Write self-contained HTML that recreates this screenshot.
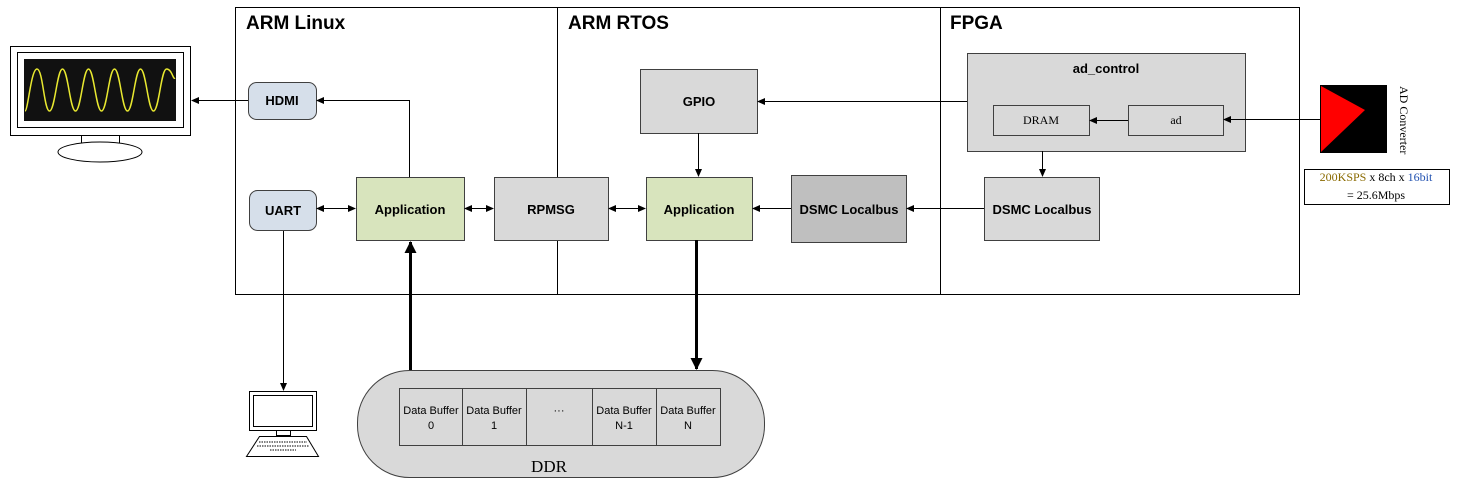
<!DOCTYPE html>
<html><head><meta charset="utf-8"><style>
html,body{margin:0;padding:0;background:#fff;}
svg{display:block;}
.b{font-family:"Liberation Sans",sans-serif;font-weight:bold;font-size:13px;fill:#000;}
.h{font-family:"Liberation Sans",sans-serif;font-weight:bold;font-size:19px;fill:#000;}
.s{font-family:"Liberation Sans",sans-serif;font-size:11px;fill:#000;}
.m{font-family:"Liberation Serif",serif;font-size:12px;fill:#000;}
</style></head><body>
<svg width="1458" height="481" viewBox="0 0 1458 481" xmlns="http://www.w3.org/2000/svg">
<defs>
<marker id="a" markerWidth="8" markerHeight="8" refX="7" refY="4" orient="auto-start-reverse" markerUnits="userSpaceOnUse"><path d="M0,0.5 L8,4 L0,7.5z" fill="#000"/></marker>
<marker id="A" markerWidth="12" markerHeight="12" refX="11" refY="6" orient="auto" markerUnits="userSpaceOnUse"><path d="M0,0 L12,6 L0,12z" fill="#000"/></marker>
</defs>
<g fill="none" stroke="#000" stroke-width="1">
<rect x="235.5" y="7.5" width="322" height="287"/>
<rect x="557.5" y="7.5" width="383" height="287"/>
<rect x="940.5" y="7.5" width="359" height="287"/>
</g>
<text class="h" x="246" y="29">ARM Linux</text>
<text class="h" x="568" y="29">ARM RTOS</text>
<text class="h" x="950" y="29">FPGA</text>
<g stroke="#404040" stroke-width="1">
<rect x="248.5" y="82.5" width="68" height="37" rx="8" fill="#d6dfea"/>
<rect x="249.5" y="190.5" width="67" height="40" rx="8" fill="#d6dfea"/>
<rect x="356.5" y="177.5" width="108" height="63" fill="#d8e4bd"/>
<rect x="494.5" y="177.5" width="114" height="63" fill="#d9d9d9"/>
<rect x="640.5" y="69.5" width="117" height="64" fill="#d9d9d9"/>
<rect x="646.5" y="177.5" width="106" height="63" fill="#d8e4bd"/>
<rect x="791.5" y="175.5" width="115" height="67" fill="#bfbfbf"/>
<rect x="967.5" y="53.5" width="278" height="98" fill="#d9d9d9"/>
<rect x="993.5" y="105.5" width="96" height="30" fill="#d9d9d9"/>
<rect x="1128.5" y="105.5" width="95" height="30" fill="#d9d9d9"/>
<rect x="984.5" y="177.5" width="115" height="63" fill="#d9d9d9"/>
</g>
<g class="b" text-anchor="middle">
<text x="282" y="105">HDMI</text>
<text x="283" y="215">UART</text>
<text x="410" y="214">Application</text>
<text x="551" y="214">RPMSG</text>
<text x="699" y="106">GPIO</text>
<text x="699" y="214">Application</text>
<text x="849" y="214">DSMC Localbus</text>
<text x="1106" y="73">ad_control</text>
<text x="1042" y="214">DSMC Localbus</text>
</g>
<text class="m" x="1041" y="124" text-anchor="middle">DRAM</text>
<text class="m" x="1176" y="124" text-anchor="middle">ad</text>
<g fill="none" stroke="#000" stroke-width="1">
<line x1="248" y1="100.5" x2="192" y2="100.5" marker-end="url(#a)"/>
<polyline points="409.5,177 409.5,100.5 317,100.5" marker-end="url(#a)"/>
<line x1="317" y1="208.5" x2="355" y2="208.5" marker-start="url(#a)" marker-end="url(#a)"/>
<line x1="465" y1="208.5" x2="493" y2="208.5" marker-start="url(#a)" marker-end="url(#a)"/>
<line x1="609" y1="208.5" x2="645" y2="208.5" marker-start="url(#a)" marker-end="url(#a)"/>
<line x1="791" y1="208.5" x2="753" y2="208.5" marker-end="url(#a)"/>
<line x1="984" y1="208.5" x2="907" y2="208.5" marker-end="url(#a)"/>
<line x1="967" y1="101.5" x2="758" y2="101.5" marker-end="url(#a)"/>
<line x1="698.5" y1="133" x2="698.5" y2="176" marker-end="url(#a)"/>
<line x1="1128" y1="120.5" x2="1090" y2="120.5" marker-end="url(#a)"/>
<line x1="1042.5" y1="151" x2="1042.5" y2="176" marker-end="url(#a)"/>
<line x1="1320" y1="119.5" x2="1224" y2="119.5" marker-end="url(#a)"/>
<line x1="283.5" y1="231" x2="283.5" y2="390" marker-end="url(#a)"/>
<line x1="410.5" y1="370" x2="410.5" y2="242" stroke-width="3" marker-end="url(#A)"/>
<line x1="696.5" y1="240" x2="696.5" y2="369" stroke-width="3" marker-end="url(#A)"/>
</g>
<!-- DDR -->
<rect x="357.5" y="370.5" width="407" height="107" rx="52" fill="#d9d9d9" stroke="#404040"/>
<rect x="399.5" y="388.5" width="321" height="57" fill="#d9d9d9" stroke="#404040"/>
<g stroke="#404040"><line x1="462.5" y1="388" x2="462.5" y2="446"/><line x1="526.5" y1="388" x2="526.5" y2="446"/><line x1="592.5" y1="388" x2="592.5" y2="446"/><line x1="656.5" y1="388" x2="656.5" y2="446"/></g>
<g class="s" text-anchor="middle">
<text x="431" y="414">Data Buffer</text><text x="431" y="429">0</text>
<text x="494" y="414">Data Buffer</text><text x="494" y="429">1</text>
<text x="559" y="414">···</text>
<text x="624" y="414">Data Buffer</text><text x="624" y="429">N-1</text>
<text x="688" y="414">Data Buffer</text><text x="688" y="429">N</text>
</g>
<text x="549" y="472" text-anchor="middle" font-family="Liberation Serif,serif" font-size="17">DDR</text>
<!-- monitor -->
<rect x="10.5" y="46.5" width="180" height="89" fill="#fff" stroke="#000"/>
<rect x="17.5" y="52.5" width="166" height="75" fill="#fff" stroke="#000"/>
<rect x="24" y="59" width="152" height="62" fill="#111"/>
<path d="M25,111 C28,111 31,69 37,69 S44,111 49.5,111 S57,69 62.5,69 S70,111 75.5,111 S83,69 88.5,69 S96,111 101.5,111 S109,69 114.5,69 S122,111 127.5,111 S135,69 140.5,69 S148,111 153.5,111 S161,69 166.5,69 S173,80 175,78" fill="none" stroke="#e8e830" stroke-width="1.5"/>
<rect x="81.5" y="135.5" width="38" height="9" fill="#fff" stroke="#000"/>
<ellipse cx="100" cy="152" rx="42" ry="10" fill="#fff" stroke="#000"/>
<!-- PC -->
<rect x="249.5" y="391.5" width="67" height="39" fill="#fff" stroke="#000"/>
<rect x="253.5" y="395.5" width="59" height="31" fill="#fff" stroke="#000"/>
<rect x="276.5" y="430.5" width="14" height="5" fill="#fff" stroke="#000"/>
<polygon points="259.5,436.5 306.5,436.5 318.5,456.5 246.5,456.5" fill="#fff" stroke="#000"/>
<g stroke="#000" stroke-dasharray="1.5,1"><line x1="259" y1="442" x2="307" y2="442"/><line x1="257" y1="446" x2="309" y2="446"/><line x1="270" y1="450" x2="296" y2="450"/></g>
<!-- ADC -->
<rect x="1320" y="85" width="67" height="68" fill="#000"/>
<polygon points="1321,86 1365,110 1321,152" fill="#ff0000"/>
<text class="m" x="1400" y="86" transform="rotate(90 1400 86)" font-size="12">AD Converter</text>
<rect x="1304.5" y="169.5" width="145" height="35" fill="#fff" stroke="#000"/>
<text class="m" x="1376" y="181" text-anchor="middle" font-size="11"><tspan fill="#8a6a00">200KSPS</tspan> x 8ch x <tspan fill="#2050b0">16bit</tspan></text>
<text class="m" x="1376" y="199" text-anchor="middle" font-size="11">= 25.6Mbps</text>
</svg>
</body></html>
